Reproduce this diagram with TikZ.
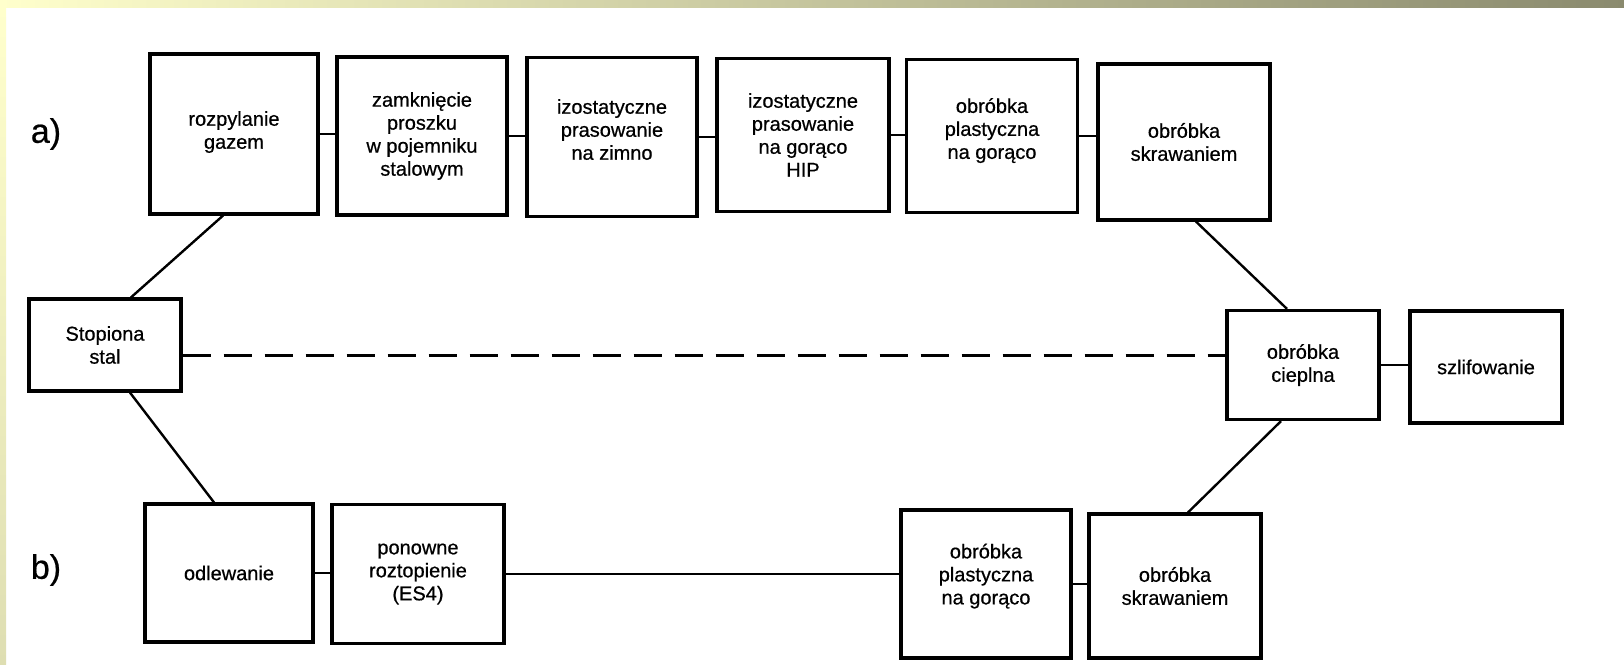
\documentclass[tikz,border=0pt]{standalone}
\usepackage{fontspec}
\setmainfont{Liberation Sans}
\newfontfamily\boxfont[FakeBold=0.6]{Liberation Sans}
\usetikzlibrary{calc}
\definecolor{frameA}{HTML}{FFFFCC}
\definecolor{frameB}{HTML}{8A8A6E}
\definecolor{frameC}{HTML}{DEDEB2}
\tikzset{
  box/.style={draw=black, line width=3.2pt, align=center, inner sep=2pt,
    font=\boxfont\fontsize{20}{23}\selectfont, text=black},
  conn/.style={draw=black, line width=2.4pt},
  dconn/.style={draw=black, line width=3pt, dash pattern=on 28pt off 13pt},
  lab/.style={font=\boxfont\fontsize{34}{38}\selectfont, text=black}
}
\begin{document}
\begin{tikzpicture}[x=1pt,y=-1pt]
\useasboundingbox (0,0) rectangle (1624,664);
\fill[white] (0,0) rectangle (1624,664);
\shade[left color=frameA, right color=frameB] (0,0) rectangle (1624,7);
\shade[top color=frameA, bottom color=frameC] (0,7) rectangle (6,664);

\node[lab] (la) at (46,134) {a)};
\node[lab] (lb) at (46,570) {b)};

\node[box, minimum width=168pt, minimum height=160pt] (b1) at (234,134) {rozpylanie\\gazem\\[-15pt]};
\node[box, minimum width=170pt, minimum height=158pt] (b2) at (422,136) {zamknięcie\\proszku\\w pojemniku\\stalowym};
\node[box, minimum width=170pt, minimum height=159pt] (b3) at (612,137) {izostatyczne\\prasowanie\\na zimno\\[-8pt]};
\node[box, minimum width=172pt, minimum height=153pt] (b4) at (803,135) {izostatyczne\\prasowanie\\na gorąco\\HIP};
\node[box, minimum width=171pt, minimum height=153pt] (b5) at (992,136) {obróbka\\plastyczna\\na gorąco\\[-8pt]};
\node[box, minimum width=172pt, minimum height=156pt] (b6) at (1184,142) {obróbka\\skrawaniem};

\node[box, minimum width=152pt, minimum height=92pt] (st) at (105,345) {Stopiona\\stal};
\node[box, minimum width=152pt, minimum height=109pt] (ci) at (1303,365) {obróbka\\cieplna};
\node[box, minimum width=152pt, minimum height=112pt] (sz) at (1486,367) {szlifowanie};

\node[box, minimum width=168pt, minimum height=138pt] (od) at (229,573) {odlewanie};
\node[box, minimum width=172pt, minimum height=139pt] (po) at (418,574) {ponowne\\roztopienie\\(ES4)};
\node[box, minimum width=170pt, minimum height=148pt] (pb) at (986,584) {obróbka\\plastyczna\\na gorąco\\[-3pt]};
\node[box, minimum width=172pt, minimum height=144pt] (sb) at (1175,586) {obróbka\\skrawaniem};

\draw[conn] (b1.east) -- (b1.east -| b2.west);
\draw[conn] (b2.east) -- (b2.east -| b3.west);
\draw[conn] (b3.east) -- (b3.east -| b4.west);
\draw[conn] (b4.east) -- (b4.east -| b5.west);
\draw[conn] (b5.east) -- (b5.east -| b6.west);

\draw[conn] ([xshift=-11pt]b1.south) -- ([xshift=26pt]st.north);
\draw[conn] ([xshift=25pt]st.south) -- ([xshift=-15pt]od.north);
\draw[conn] ([xshift=12pt]b6.south) -- ([xshift=-16pt]ci.north);
\draw[conn] ([xshift=-22pt]ci.south) -- ([xshift=13pt]sb.north);

\draw[dconn] ([yshift=-10pt]st.east) -- ([yshift=-10pt]st.east -| ci.west);
\draw[conn] (ci.east) -- (ci.east -| sz.west);

\draw[conn] (od.east) -- (od.east -| po.west);
\draw[conn] (po.east) -- (po.east -| pb.west);
\draw[conn] (pb.east) -- (pb.east -| sb.west);
\end{tikzpicture}
\end{document}
